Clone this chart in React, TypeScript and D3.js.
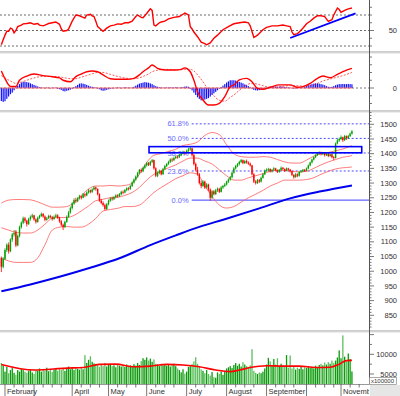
import React from "react";
import * as d3 from "d3";

const W = 400;
const H = 396;
const AX = 369; // right axis line

// month ticks on the trading-day axis
const monthStart = [2, 18, 39, 59, 80, 102, 124, 146, 168, 187];
const monthNames = ["February", "", "April", "May", "June", "July", "August", "September", "", "November"];

// daily candles [open, high, low, close]
const ohlc: [number, number, number, number][] = [
  [1045, 1050, 997, 1015], [1015, 1048, 1010, 1042], [1042, 1078, 1038, 1072], [1072, 1095, 1065, 1090], [1090, 1098, 1060, 1068],
  [1068, 1112, 1065, 1108], [1108, 1130, 1100, 1125], [1125, 1140, 1118, 1130], [1135, 1140, 1082, 1088], [1088, 1125, 1085, 1120],
  [1120, 1155, 1115, 1150], [1150, 1170, 1145, 1165], [1165, 1186, 1160, 1180], [1180, 1185, 1165, 1172], [1172, 1175, 1152, 1160],
  [1160, 1182, 1158, 1178], [1178, 1190, 1172, 1185], [1185, 1196, 1180, 1190], [1190, 1192, 1172, 1176], [1176, 1180, 1162, 1168],
  [1168, 1186, 1165, 1182], [1182, 1192, 1178, 1188], [1188, 1200, 1185, 1195], [1195, 1198, 1182, 1186], [1186, 1190, 1170, 1175],
  [1175, 1185, 1172, 1180], [1180, 1192, 1178, 1188], [1188, 1192, 1180, 1184], [1184, 1188, 1172, 1178], [1178, 1190, 1175, 1185],
  [1185, 1196, 1182, 1190], [1190, 1194, 1178, 1182], [1182, 1185, 1165, 1170], [1170, 1174, 1152, 1158], [1158, 1162, 1140, 1150],
  [1150, 1172, 1148, 1168], [1168, 1190, 1165, 1185], [1185, 1205, 1182, 1200], [1200, 1220, 1196, 1215], [1215, 1235, 1210, 1230],
  [1230, 1248, 1226, 1242], [1242, 1250, 1232, 1238], [1238, 1252, 1235, 1248], [1248, 1260, 1244, 1255], [1255, 1258, 1244, 1250],
  [1250, 1266, 1248, 1262], [1262, 1266, 1252, 1258], [1258, 1272, 1255, 1268], [1268, 1280, 1264, 1275], [1275, 1278, 1265, 1270],
  [1270, 1282, 1266, 1278], [1278, 1290, 1275, 1285], [1285, 1288, 1274, 1280], [1280, 1282, 1258, 1262], [1262, 1265, 1236, 1240],
  [1240, 1246, 1228, 1232], [1232, 1238, 1220, 1225], [1225, 1230, 1207, 1212], [1212, 1232, 1208, 1228], [1228, 1244, 1224, 1240],
  [1240, 1252, 1236, 1248], [1248, 1254, 1240, 1245], [1245, 1256, 1242, 1252], [1252, 1262, 1248, 1258], [1258, 1262, 1250, 1255],
  [1255, 1266, 1252, 1262], [1262, 1274, 1258, 1270], [1270, 1275, 1262, 1268], [1268, 1280, 1265, 1276], [1276, 1286, 1272, 1282],
  [1282, 1286, 1275, 1280], [1280, 1294, 1277, 1290], [1290, 1306, 1287, 1302], [1302, 1316, 1298, 1312], [1312, 1326, 1308, 1322],
  [1322, 1338, 1318, 1335], [1335, 1348, 1330, 1345], [1345, 1350, 1335, 1340], [1340, 1356, 1337, 1352], [1352, 1364, 1348, 1360],
  [1360, 1372, 1356, 1368], [1368, 1372, 1358, 1362], [1362, 1376, 1358, 1372], [1372, 1382, 1368, 1378], [1378, 1380, 1346, 1350],
  [1350, 1354, 1320, 1325], [1325, 1340, 1320, 1335], [1335, 1346, 1330, 1342], [1342, 1345, 1326, 1330], [1330, 1352, 1328, 1348],
  [1348, 1362, 1345, 1358], [1358, 1368, 1354, 1365], [1365, 1376, 1362, 1372], [1372, 1384, 1368, 1380], [1380, 1386, 1372, 1378],
  [1378, 1390, 1375, 1385], [1385, 1394, 1382, 1390], [1390, 1394, 1383, 1388], [1388, 1399, 1385, 1395], [1395, 1404, 1392, 1400],
  [1400, 1410, 1397, 1405], [1405, 1408, 1396, 1402], [1402, 1414, 1400, 1410], [1410, 1420, 1406, 1415], [1415, 1423, 1410, 1418],
  [1418, 1420, 1390, 1395], [1395, 1400, 1360, 1365], [1365, 1370, 1340, 1345], [1345, 1355, 1325, 1330], [1330, 1334, 1295, 1300],
  [1300, 1308, 1282, 1290], [1290, 1310, 1286, 1305], [1305, 1308, 1280, 1285], [1285, 1300, 1282, 1295], [1295, 1298, 1272, 1278],
  [1278, 1282, 1240, 1250], [1250, 1276, 1246, 1272], [1272, 1276, 1258, 1262], [1262, 1280, 1260, 1275], [1275, 1285, 1270, 1280],
  [1280, 1284, 1266, 1270], [1270, 1290, 1268, 1285], [1285, 1294, 1280, 1290], [1290, 1300, 1286, 1295], [1295, 1308, 1292, 1305],
  [1305, 1316, 1300, 1312], [1312, 1324, 1308, 1320], [1320, 1338, 1316, 1335], [1335, 1354, 1332, 1350], [1350, 1362, 1346, 1358],
  [1358, 1368, 1354, 1365], [1365, 1376, 1360, 1372], [1372, 1382, 1368, 1378], [1378, 1380, 1364, 1368], [1368, 1378, 1365, 1375],
  [1375, 1380, 1366, 1370], [1370, 1374, 1362, 1366], [1366, 1370, 1356, 1360], [1360, 1362, 1326, 1330], [1330, 1334, 1300, 1305],
  [1305, 1310, 1295, 1300], [1300, 1314, 1297, 1310], [1310, 1314, 1300, 1305], [1305, 1322, 1302, 1318], [1318, 1334, 1315, 1330],
  [1330, 1346, 1327, 1342], [1342, 1350, 1338, 1345], [1345, 1352, 1340, 1348], [1348, 1350, 1336, 1340], [1340, 1348, 1336, 1345],
  [1345, 1354, 1342, 1350], [1350, 1352, 1340, 1343], [1343, 1346, 1334, 1338], [1338, 1348, 1335, 1345], [1345, 1356, 1342, 1352],
  [1352, 1355, 1344, 1348], [1348, 1350, 1338, 1342], [1342, 1353, 1340, 1350], [1350, 1352, 1342, 1346], [1346, 1348, 1336, 1340],
  [1340, 1342, 1324, 1328], [1328, 1330, 1315, 1320], [1320, 1334, 1318, 1330], [1330, 1333, 1320, 1325], [1325, 1340, 1322, 1338],
  [1338, 1344, 1335, 1340], [1340, 1348, 1337, 1345], [1345, 1348, 1338, 1342], [1342, 1353, 1340, 1350], [1350, 1363, 1347, 1360],
  [1360, 1373, 1357, 1370], [1370, 1383, 1367, 1380], [1380, 1391, 1377, 1388], [1388, 1398, 1385, 1395], [1395, 1404, 1392, 1400],
  [1400, 1408, 1396, 1405], [1405, 1407, 1394, 1398], [1398, 1405, 1395, 1402], [1402, 1404, 1390, 1395], [1395, 1403, 1392, 1400],
  [1400, 1402, 1388, 1392], [1392, 1401, 1389, 1398], [1398, 1400, 1384, 1388], [1388, 1392, 1378, 1385], [1385, 1438, 1384, 1435],
  [1435, 1450, 1432, 1445], [1445, 1455, 1440, 1450], [1450, 1462, 1446, 1456], [1456, 1458, 1440, 1446], [1446, 1464, 1443, 1460],
  [1460, 1462, 1447, 1452], [1452, 1464, 1450, 1460], [1460, 1472, 1457, 1468], [1468, 1480, 1465, 1476],
];

// volume, x100000
const volume = [
  7800, 7200, 5600, 6800, 5200, 6000, 6500, 5300, 4800, 6000,
  5600, 6300, 6000, 5600, 5300, 5800, 6200, 5400, 5000, 6000,
  5800, 6400, 5600, 6200, 5900, 6600, 5700, 6300, 5500, 6100,
  6400, 5800, 6200, 6000, 6600, 5800, 6300, 6900, 6200, 6500,
  6000, 6700, 6300, 6100, 6500, 6200, 9800, 7800, 8600, 9500,
  8100, 7700, 7600, 7200, 6800, 7400, 7000, 7800, 6900, 7300,
  7600, 7000, 7200, 6700, 7500, 7100, 6900, 7300, 6800, 7400,
  7000, 7200, 6800, 7500, 7100, 7800, 7300, 8300, 9000, 8600,
  9200, 8400, 8900, 8100, 8700, 7600, 7400, 7000, 7600, 7200,
  7500, 7100, 7400, 6900, 7300, 7600, 7000, 6400, 6000, 5400,
  6200, 5100, 5600, 6800, 7000, 7500, 8200, 9250, 7600, 6800,
  6200, 5800, 5200, 6000, 5000, 4600, 5500, 4200, 4050, 5400,
  5000, 5600, 4800, 5800, 6400, 6700, 7000, 6500, 7300, 7800,
  7100, 7600, 6900, 8000, 7400, 7000, 6800, 7200, 11300, 5800,
  5300, 5000, 5400, 5200, 5600, 6400, 7400, 9100, 8200, 7000,
  8800, 7400, 9000, 6800, 7600, 7200, 7000, 9800, 6600, 9700,
  6400, 6800, 6100, 6600, 6300, 6900, 6200, 6700, 6500, 7000,
  6600, 6800, 6400, 7100, 6700, 7300, 7600, 7200, 7900, 7400,
  8000, 7600, 8400, 7800, 8400, 9200, 11000, 9000, 14800, 9400,
  8200, 10200, 8800, 5650,
];
const volMaIdx = [0, 18, 36, 45, 54, 63, 73, 82, 91, 100, 109, 118, 126, 131, 137, 146, 155, 164, 173, 181, 186, 190, 193];
const volMaVal = [7425, 6000, 6500, 6650, 7450, 7500, 6850, 7000, 7450, 7300, 6850, 6000, 5600, 6000, 6650, 7100, 7000, 7000, 6650, 6700, 7500, 8400, 8450];

// Bollinger bands (20)
const bbIdx = [0, 4, 8, 12, 16, 20, 24, 28, 32, 36, 40, 44, 48, 52, 56, 60, 64, 68, 72, 76, 80, 84, 88, 92, 96, 100, 104, 108, 112, 116, 120, 124, 128, 132, 136, 140, 144, 148, 152, 156, 160, 164, 168, 172, 176, 180, 184, 188, 192, 193];
const bbUpper = [1232, 1242, 1244, 1244, 1243, 1236, 1226, 1218, 1218, 1220, 1235, 1258, 1280, 1290, 1290, 1292, 1290, 1292, 1300, 1330, 1370, 1395, 1400, 1408, 1415, 1428, 1432, 1440, 1462, 1472, 1465, 1430, 1400, 1390, 1388, 1388, 1390, 1388, 1380, 1372, 1368, 1368, 1378, 1392, 1400, 1404, 1410, 1416, 1425, 1427];
const bbMid = [1148, 1140, 1132, 1130, 1130, 1140, 1160, 1180, 1183, 1183, 1190, 1205, 1222, 1240, 1245, 1250, 1252, 1258, 1268, 1285, 1310, 1330, 1340, 1352, 1362, 1375, 1385, 1385, 1375, 1365, 1345, 1325, 1310, 1310, 1318, 1325, 1332, 1340, 1343, 1343, 1340, 1338, 1340, 1350, 1362, 1372, 1380, 1388, 1392, 1394];
const bbLower = [1045, 1035, 1030, 1030, 1030, 1045, 1090, 1140, 1150, 1152, 1150, 1150, 1160, 1180, 1205, 1210, 1214, 1220, 1220, 1225, 1245, 1268, 1285, 1300, 1315, 1325, 1335, 1330, 1290, 1255, 1225, 1215, 1220, 1235, 1250, 1262, 1275, 1290, 1300, 1310, 1310, 1310, 1312, 1318, 1330, 1340, 1348, 1352, 1354, 1355];

// MA 200
const maIdx = [0, 16, 32, 48, 65, 82, 96, 109, 123, 142, 159, 176, 193];
const maVal = [932, 955, 981, 1010, 1044, 1089, 1122, 1151, 1177, 1214, 1248, 1272, 1292];

// Fibonacci retracement and resistance zone
const fibLevels = [1501.6, 1452, 1402.4, 1341.1, 1242];
const fibLabels = ["61.8%", "50.0%", "38.2%", "23.6%", "0.0%"];
const fibStart = 104.8;
const zoneIdx = [81.3, 198.4];
const zoneRange = [1403, 1424];

// RSI(14)
const rsiIdx = [0, 1, 2, 3, 4, 5, 6, 7, 8, 9, 11, 12, 14, 16, 18, 20, 21, 23, 25, 26, 28, 30, 32, 33, 34, 36, 37, 39, 41, 43, 44, 46, 47, 49, 50, 51, 52, 53, 55, 56, 58, 60, 62, 64, 66, 68, 70, 72, 74, 75, 77, 78, 80, 82, 83, 84, 85, 87, 88, 90, 92, 95, 98, 100, 101, 103, 104, 105, 106, 108, 110, 112, 113, 115, 117, 119, 122, 125, 128, 131, 134, 136, 137, 139, 141, 144, 146, 149, 152, 155, 157, 159, 160, 161, 163, 164, 166, 168, 170, 172, 174, 176, 178, 180, 182, 183, 185, 186, 187, 189, 191, 193];
const rsiVal = [31.6, 38, 44, 49, 49, 53, 52, 47, 50, 55, 57, 58.5, 59, 60, 58, 59, 57, 56, 58, 59, 60, 61, 58, 52, 49, 50, 52, 62, 70, 69, 68, 66, 70, 71, 69, 68, 62, 55, 51, 49, 53, 56, 57, 58.5, 58, 60, 60, 62, 68, 70, 67, 66.5, 72, 78, 76, 57, 56, 60, 61, 62, 65, 67, 68, 71, 72.5, 70, 55, 52, 48, 42, 35, 33, 31.6, 34, 40, 44, 51, 55, 58.7, 60, 61, 60, 56, 41, 44, 51, 54, 56, 56, 57, 56, 55, 48, 44.5, 46, 48, 53, 58.7, 62, 66, 69, 69, 68, 61.7, 64, 70, 79, 77, 73.5, 76, 78, 79];
const rsiTrendIdx = [159, 195];
const rsiTrendVal = [40.3, 72];

// MACD
const macdIdx = [0, 2, 5, 8, 10, 14, 18, 23, 28, 32, 34, 38, 41, 44, 47, 50, 53, 56, 60, 65, 69, 73, 76, 78, 81, 83, 86, 89, 92, 96, 99, 101, 104, 106, 108, 111, 114, 117, 120, 123, 126, 128, 131, 135, 138, 141, 144, 148, 153, 159, 163, 166, 170, 174, 177, 181, 185, 188, 190, 193];
const macdVal = [11, 6, 1, 1, 5, 7.7, 9, 8, 7.3, 6.5, 5, 4, 7.3, 9, 10.5, 11, 10.5, 8.4, 6, 5.6, 5.6, 6.2, 8.5, 10.5, 13, 14.8, 12.7, 11.8, 11.6, 11.6, 12, 13, 10.5, 5, -2.4, -7.7, -11, -11, -9.9, -5.6, 0.9, 1.9, 5.2, 6.2, 4, -0.2, -0.8, 0.5, 2, 2, 0.5, 0.9, 3, 6.2, 7.7, 6.6, 8.8, 10.5, 11.5, 12.7];
const signalVal = [8, 6.5, 4.5, 3, 3.5, 5, 6.5, 7.5, 7.5, 7.2, 6.8, 6, 6, 7, 8, 9.2, 10, 10, 8.8, 7.2, 6.3, 6, 6.5, 7.5, 9, 10.5, 11.5, 12, 12, 11.8, 11.8, 12, 12, 11, 8.5, 4, -1, -5, -8, -8.5, -6, -4.5, -1.5, 2, 3, 2.5, 1.5, 0.5, 0.8, 1.5, 1.5, 1.2, 1.5, 3, 4.5, 5.8, 7, 8, 8.8, 10];
const histVal = [
  -8.4, -9, -8.5, -7, -5.5, -4, -3, -1.5, 0.5, 1.5,
  2.5, 3.5, 4, 4, 3.8, 3.5, 3, 2.5, 2, 1.5,
  1, 0.6, 0.3, 0.2, -0.2, 0.3, 0.2, -0.3, 0.2, 0.1,
  0.3, -0.5, -0.8, -1.2, -2, -2.2, -1.8, -1.5, -1, -0.5,
  0.5, 1.2, 2, 2.8, 3, 2.8, 2.5, 2, 1.5, 1,
  0.8, 0.5, 0.3, -0.3, -0.8, -1.5, -1.8, -1.6, -1.2, -0.8,
  -0.5, -0.3, -0.2, 0.2, 0.3, 0.2, -0.2, 0.2, 0.4, 0.3,
  0.2, 0.1, 0.3, 0.8, 1.5, 2.2, 2.8, 3.2, 3.5, 3.8,
  3.6, 3.4, 3, 2.5, 1.8, 1.2, 0.8, 0.5, 0.3, 0.2,
  0.2, 0.3, 0.2, 0.4, 0.3, 0.2, 0.5, 0.3, 0.2, 0.4,
  0.6, 0.9, 1, 0.8, -0.5, -1.5, -3, -4.5, -6, -7,
  -8, -7.8, -7.5, -7, -6.5, -5.5, -4.5, -3.5, -2.5, -1.5,
  -0.5, 0.5, 1.5, 2.5, 3.5, 4.3, 5, 5, 5, 4.8,
  4.5, 4, 3.5, 3, 2.3, 1.8, 1.2, 0.5, -0.5, -1.2,
  -1.5, -1.6, -1.4, -1, -0.6, -0.2, 0.2, 0.5, 0.8, 1,
  1, 0.9, 0.8, 0.9, 1, 0.8, 0.6, 0.5, 0.3, 0.2,
  -0.2, -0.4, -0.3, -0.2, 0.1, 0.2, 0.4, 0.8, 1.2, 1.8,
  2.2, 2.5, 2.8, 3, 3, 2.8, 2.5, 2.2, 1.8, 1.2,
  0.8, 0.6, 0.8, 1.2, 1.8, 2.2, 2.5, 2.5, 2.6, 2.5,
  2.5, 2.6, 2.5, 2.4,
];

// scales
const xS = d3.scaleLinear().domain([-0.75, 202.4]).range([0, AX]);
const yRsi = d3.scaleLinear().domain([30, 70]).range([46, 15]);
const yMacd = d3.scaleLinear().domain([0, 10]).range([88, 72.5]);
const yPrice = d3.scaleLinear().domain([850, 1500]).range([315.3, 124.3]);
const yVol = d3.scaleLinear().domain([5000, 10000]).range([374, 354.3]);

const FONT = "'Liberation Sans', Arial, sans-serif";

const zip = (a: number[], b: number[]) => a.map((v, i) => [v, b[i]] as [number, number]);

function path(pts: [number, number][], y: (v: number) => number, curve = d3.curveLinear) {
  return d3.line<[number, number]>().x(d => xS(d[0])).y(d => y(d[1])).curve(curve)(pts) || "";
}

export default function App() {
  const lastI = ohlc.length - 1;
  const priceMinor = d3.range(810, 1541, 10);
  const rsiTicks = [30, 40, 50, 60, 70, 80];
  const macdTicks = [-10, -5, 0, 5, 10, 15, 20];
  const volTicks = d3.range(2500, 15001, 2500);

  const minorX: number[] = [];
  monthStart.forEach((m, k) => {
    const next = k < monthStart.length - 1 ? monthStart[k + 1] : 203;
    for (let i = m + 5; i < next - 2; i += 5) minorX.push(i);
  });

  const label = { fontFamily: FONT, fontSize: 7.5, fill: "#333" };

  return (
    <svg width={W} height={H} style={{ position: "absolute", left: 0, top: 0, background: "#fff" }}>
      <defs>
        <clipPath id="cRsi"><rect x={0} y={0} width={AX} height={51.5} /></clipPath>
        <clipPath id="cMacd"><rect x={0} y={53} width={AX} height={57} /></clipPath>
        <clipPath id="cPrice"><rect x={0} y={112} width={AX} height={218} /></clipPath>
        <clipPath id="cVol"><rect x={0} y={332} width={AX} height={52} /></clipPath>
        <clipPath id="cAxisX"><rect x={0} y={384} width={AX} height={12} /></clipPath>
      </defs>

      {/* RSI panel */}
      <g clipPath="url(#cRsi)">
        {[70, 50, 30].map(v => (
          <line key={v} x1={0} x2={AX} y1={yRsi(v)} y2={yRsi(v)} stroke="#444" strokeDasharray="2,2" strokeWidth={0.8} />
        ))}
        <path d={path(zip(rsiIdx, rsiVal), yRsi)} fill="none" stroke="#ff0000" strokeWidth={1.4} />
        <path d={path(zip(rsiTrendIdx, rsiTrendVal), yRsi)} fill="none" stroke="#0000ff" strokeWidth={1.8} />
      </g>

      {/* MACD panel */}
      <g clipPath="url(#cMacd)">
        <line x1={0} x2={AX} y1={yMacd(0)} y2={yMacd(0)} stroke="#555" strokeDasharray="2,2" strokeWidth={0.8} />
        {histVal.map((v, i) => (
          <rect key={i} x={xS(i) - 0.6} width={1.2} y={Math.min(yMacd(v), yMacd(0))} height={Math.abs(yMacd(v) - yMacd(0))} fill="#1010ff" />
        ))}
        <line x1={xS(0)} x2={xS(lastI)} y1={yMacd(0)} y2={yMacd(0)} stroke="#ff7070" strokeWidth={1} />
        <path d={path(zip(macdIdx, signalVal), yMacd, d3.curveMonotoneX)} fill="none" stroke="#ff3030" strokeWidth={0.8} strokeDasharray="2,1.5" />
        <path d={path(zip(macdIdx, macdVal), yMacd, d3.curveMonotoneX)} fill="none" stroke="#ff0000" strokeWidth={1.4} />
      </g>

      {/* Price panel */}
      <g clipPath="url(#cPrice)">
        {fibLevels.map((v, k) => (
          <g key={k}>
            <line x1={xS(fibStart)} x2={AX} y1={yPrice(v)} y2={yPrice(v)} stroke="#3b3bff"
              strokeWidth={k === 4 ? 1 : 0.9} strokeDasharray={k === 4 ? undefined : "2,2"} />
            <text x={xS(fibStart) - 3} y={yPrice(v)} dy="0.35em" textAnchor="end" {...label} fill="#6a6aff">{fibLabels[k]}</text>
          </g>
        ))}
        <path d={path(zip(bbIdx, bbUpper), yPrice, d3.curveMonotoneX)} fill="none" stroke="#ff5a5a" strokeWidth={0.8} />
        <path d={path(zip(bbIdx, bbMid), yPrice, d3.curveMonotoneX)} fill="none" stroke="#ff5a5a" strokeWidth={0.8} />
        <path d={path(zip(bbIdx, bbLower), yPrice, d3.curveMonotoneX)} fill="none" stroke="#ff5a5a" strokeWidth={0.8} />
        <path d={path(zip(maIdx, maVal), yPrice, d3.curveMonotoneX)} fill="none" stroke="#0000ee" strokeWidth={2} />
        {ohlc.map(([o, h, l, c], i) => {
          const col = c >= o ? "#00a000" : "#ff0000";
          const x = xS(i);
          const top = yPrice(Math.max(o, c));
          const bh = Math.max(0.8, Math.abs(yPrice(o) - yPrice(c)));
          return (
            <g key={i}>
              <line x1={x} x2={x} y1={yPrice(h)} y2={yPrice(l)} stroke={col} strokeWidth={0.8} />
              <rect x={x - 0.7} width={1.4} y={top} height={bh} fill={col} />
            </g>
          );
        })}
        <rect x={xS(zoneIdx[0])} y={yPrice(zoneRange[1])} width={xS(zoneIdx[1]) - xS(zoneIdx[0])}
          height={yPrice(zoneRange[0]) - yPrice(zoneRange[1])} fill="none" stroke="#0000ff" strokeWidth={1.6} />
      </g>

      {/* Volume panel */}
      <g clipPath="url(#cVol)">
        {volume.map((v, i) => {
          const [o, , , c] = ohlc[i];
          return (
            <rect key={i} x={xS(i) - 0.65} width={1.3} y={yVol(v)} height={384 - yVol(v)} fill={c >= o ? "#0a9a0a" : "#5cbf5c"} />
          );
        })}
        <path d={path(zip(volMaIdx, volMaVal), yVol, d3.curveMonotoneX)} fill="none" stroke="#ff0000" strokeWidth={1.6} />
      </g>

      {/* panel separators */}
      {[52, 111, 331].map(y => (
        <g key={y}>
          <line x1={0} x2={W} y1={y} y2={y} stroke="#9a9a9a" strokeWidth={1} />
          <line x1={0} x2={W} y1={y + 1} y2={y + 1} stroke="#dcdcdc" strokeWidth={1} />
        </g>
      ))}

      {/* right axis */}
      <line x1={AX + 0.5} x2={AX + 0.5} y1={0} y2={384} stroke="#555" strokeWidth={1} />
      {rsiTicks.map(v => (
        <line key={"r" + v} x1={AX} x2={AX + (v === 50 ? 5 : 3)} y1={yRsi(v)} y2={yRsi(v)} stroke="#555" strokeWidth={0.8} />
      ))}
      <text x={397} y={yRsi(50)} dy="0.35em" textAnchor="end" {...label}>50</text>
      {macdTicks.map(v => (
        <line key={"m" + v} x1={AX} x2={AX + (v === 0 ? 5 : 3)} y1={yMacd(v)} y2={yMacd(v)} stroke="#555" strokeWidth={0.8} />
      ))}
      <text x={397} y={yMacd(0)} dy="0.35em" textAnchor="end" {...label}>0</text>
      {priceMinor.map(v => (
        <line key={"p" + v} x1={AX} x2={AX + (v % 50 === 0 ? 5 : 2.5)} y1={yPrice(v)} y2={yPrice(v)} stroke="#555" strokeWidth={0.8} />
      ))}
      {yPrice.ticks(13).filter(v => v >= 850 && v <= 1500).map(v => (
        <text key={"pl" + v} x={397} y={yPrice(v)} dy="0.35em" textAnchor="end" {...label}>{v}</text>
      ))}
      {volTicks.map(v => (
        <line key={"v" + v} x1={AX} x2={AX + (v % 5000 === 0 ? 5 : 3)} y1={yVol(v)} y2={yVol(v)} stroke="#555" strokeWidth={0.8} />
      ))}
      <text x={397} y={yVol(10000)} dy="0.35em" textAnchor="end" {...label}>10000</text>
      <text x={397} y={yVol(5000)} dy="0.35em" textAnchor="end" {...label}>5000</text>
      <rect x={369.5} y={377.5} width={27} height={7} fill="#fff" stroke="#888" strokeWidth={0.7} />
      <text x={371} y={381.2} dy="0.35em" fontFamily={FONT} fontSize={6} fill="#333">x100000</text>

      {/* bottom time axis */}
      <line x1={0} x2={AX} y1={384.5} y2={384.5} stroke="#999" strokeWidth={1} />
      <rect x={AX + 1} y={385} width={W - AX - 1} height={H - 385} fill="#e6e6e6" />
      <g clipPath="url(#cAxisX)">
        {minorX.map(i => (
          <line key={"mx" + i} x1={xS(i)} x2={xS(i)} y1={384} y2={387.5} stroke="#555" strokeWidth={0.8} />
        ))}
        {monthStart.map((m, k) => (
          <g key={"mt" + m}>
            <line x1={xS(m)} x2={xS(m)} y1={384} y2={396} stroke="#555" strokeWidth={0.8} />
            {monthNames[k] && (
              <text x={xS(m) + 2} y={393.5} {...label}>{monthNames[k]}</text>
            )}
          </g>
        ))}
      </g>
    </svg>
  );
}
